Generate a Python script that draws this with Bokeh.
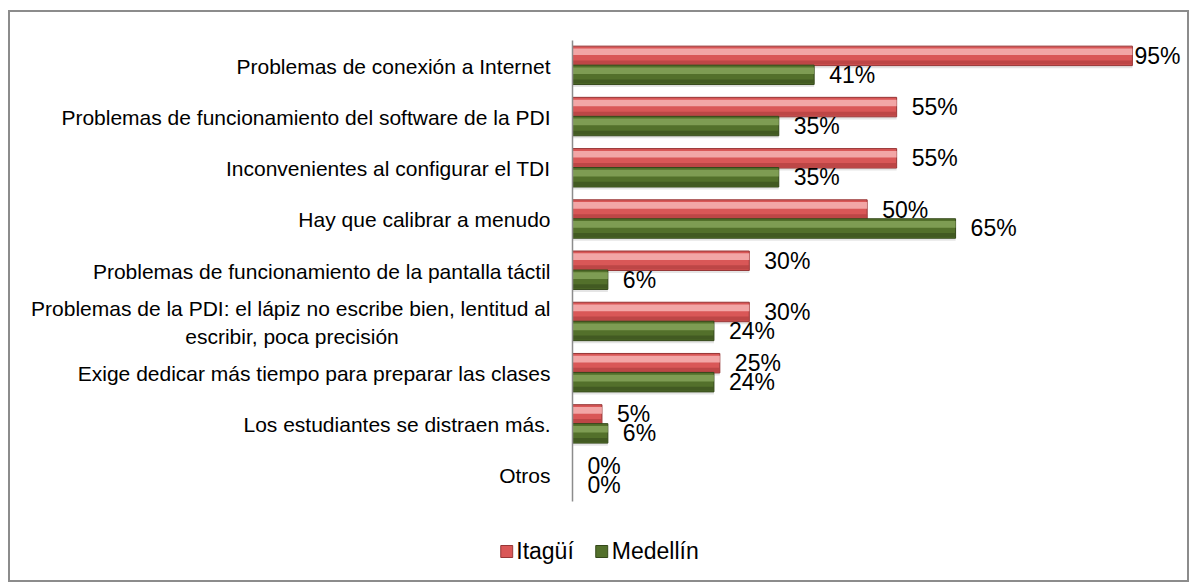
from bokeh.plotting import figure
from bokeh.layouts import column
from bokeh.models import FactorRange, Range1d, ColumnDataSource, Legend, LegendItem
from bokeh.transform import dodge
from bokeh.core.properties import value
from bokeh.embed import file_html
from bokeh.resources import INLINE

categories = [
    "Problemas de conexión a Internet",
    "Problemas de funcionamiento del software de la PDI",
    "Inconvenientes al configurar el TDI",
    "Hay que calibrar a menudo",
    "Problemas de funcionamiento de la pantalla táctil",
    "Problemas de la PDI: el lápiz no escribe bien, lentitud al\nescribir, poca precisión" + "\u00a0" * 26,
    "Exige dedicar más tiempo para preparar las clases",
    "Los estudiantes se distraen más.",
    "Otros",
]
itagui = [95, 55, 55, 50, 30, 30, 25, 5, 0]
medellin = [41, 35, 35, 65, 6, 24, 24, 6, 0]
series_names = ["Itagüí", "Medellín"]

FONT = "Liberation Sans"
RED_FILL, RED_HI, RED_LO, RED_LINE = "#D95757", "#F6B4B4", "#B54242", "#963636"
GRN_FILL, GRN_HI, GRN_LO, GRN_LINE = "#53702B", "#86A35A", "#3E5520", "#34481A"

src = ColumnDataSource(dict(
    cat=categories,
    ita=itagui,
    med=medellin,
    ita_lbl=[f"{v}%" for v in itagui],
    med_lbl=[f"{v}%" for v in medellin],
    ita_off=[2 if v >= 90 else 15 for v in itagui],
    med_off=[2 if v >= 90 else 15 for v in medellin],
))

W = 1181
p = figure(
    width=W, height=510,
    y_range=FactorRange(factors=list(reversed(categories)), range_padding=0),
    x_range=Range1d(0, 103.5),
    output_backend="svg", toolbar_location=None,
    min_border_left=564, min_border_right=7, min_border_top=30, min_border_bottom=19,
)
p.frame_align = False
p.outline_line_color = None
p.border_fill_alpha = 0
p.background_fill_alpha = 0
p.xgrid.grid_line_color = None
p.ygrid.grid_line_color = None
p.xaxis.visible = False

ya = p.yaxis[0]
ya.axis_line_color = "#8c8c8c"
ya.axis_line_width = 1.5
ya.major_tick_line_color = None
ya.minor_tick_line_color = None
ya.major_tick_out = 0
ya.major_tick_in = 0
ya.major_label_text_font = FONT
ya.major_label_text_font_size = "21px"
ya.major_label_text_color = "#000000"
ya.major_label_standoff = 22

RED_OFF, GRN_OFF, H = 0.20, -0.17, 0.38

# shadows
p.hbar(y=dodge("cat", RED_OFF - 0.05, range=p.y_range), left=0, right="ita", height=H,
       source=src, fill_color="#000000", fill_alpha=0.10, line_color=None)
p.hbar(y=dodge("cat", GRN_OFF - 0.05, range=p.y_range), left=0, right="med", height=H,
       source=src, fill_color="#000000", fill_alpha=0.10, line_color=None)

# Itagüí bars
p.hbar(y=dodge("cat", RED_OFF, range=p.y_range), left=0, right="ita", height=H,
       source=src, fill_color=RED_FILL, line_color=RED_LINE, line_width=1)
p.hbar(y=dodge("cat", RED_OFF + 0.08, range=p.y_range), left=0, right="ita", height=0.13,
       source=src, fill_color=RED_HI, fill_alpha=0.85, line_color=None)
p.hbar(y=dodge("cat", RED_OFF - 0.13, range=p.y_range), left=0, right="ita", height=0.08,
       source=src, fill_color=RED_LO, fill_alpha=0.8, line_color=None)

# Medellín bars
p.hbar(y=dodge("cat", GRN_OFF, range=p.y_range), left=0, right="med", height=H,
       source=src, fill_color=GRN_FILL, line_color=GRN_LINE, line_width=1)
p.hbar(y=dodge("cat", GRN_OFF + 0.08, range=p.y_range), left=0, right="med", height=0.13,
       source=src, fill_color=GRN_HI, fill_alpha=0.85, line_color=None)
p.hbar(y=dodge("cat", GRN_OFF - 0.13, range=p.y_range), left=0, right="med", height=0.08,
       source=src, fill_color=GRN_LO, fill_alpha=0.8, line_color=None)

# value labels
p.text(x="ita", y=dodge("cat", RED_OFF, range=p.y_range), text="ita_lbl", x_offset="ita_off",
       source=src, text_font=value(FONT), text_font_size="23px", text_color="#000000",
       text_baseline="middle", text_align="left")
p.text(x="med", y=dodge("cat", GRN_OFF, range=p.y_range), text="med_lbl", x_offset="med_off",
       source=src, text_font=value(FONT), text_font_size="23px", text_color="#000000",
       text_baseline="middle", text_align="left")

# legend strip (legend proxies lie far outside the visible ranges; only their swatches show)
q = figure(width=W, height=62, x_range=Range1d(0, 1), y_range=Range1d(0, 1),
           output_backend="svg", toolbar_location=None,
           min_border_left=0, min_border_right=0, min_border_top=0, min_border_bottom=0)
q.frame_align = False
q.axis.visible = False
q.grid.grid_line_color = None
q.outline_line_color = None
q.border_fill_alpha = 0
q.background_fill_alpha = 0
proxy = ColumnDataSource(dict(y=[-50], left=[50], right=[51]))
r1 = q.hbar(y="y", right="right", left="left", height=1, source=proxy,
            fill_color=RED_FILL, line_color=RED_LINE)
r2 = q.hbar(y="y", right="right", left="left", height=1, source=proxy,
            fill_color=GRN_FILL, line_color=GRN_LINE)
legend = Legend(
    items=[LegendItem(label=series_names[0], renderers=[r1]),
           LegendItem(label=series_names[1], renderers=[r2])],
    orientation="horizontal", location="center",
    glyph_width=15, glyph_height=15, label_standoff=3, spacing=20,
    label_text_font=FONT, label_text_font_size="23px", label_text_color="#000000",
    border_line_color=None, background_fill_alpha=0, padding=0, margin=0,
)
q.add_layout(legend, "center")

layout = column(p, q, spacing=0)
layout.margin = (10, 0, 0, 8)
layout.styles = {"outline": "2px solid #8c8c8c", "outline-offset": "-2px", "background": "white"}

open("out.html", "w").write(file_html(layout, INLINE))
